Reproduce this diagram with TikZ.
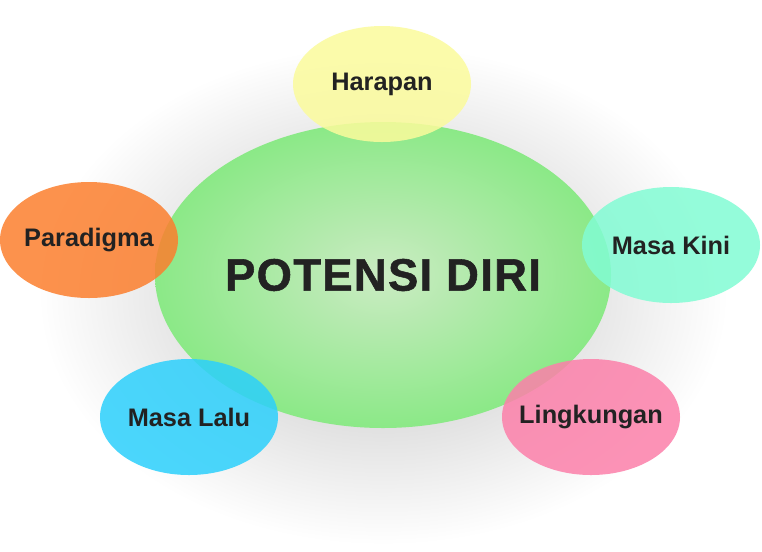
\documentclass[tikz,border=0pt]{standalone}
\usepackage{fontspec}
\setmainfont{Liberation Sans}
\usepackage{xcolor}
\usepackage{tikz}
\usetikzlibrary{shapes.geometric}
\definecolor{coregreen}{HTML}{8BE987}
\definecolor{corelight}{HTML}{CBEBC3}
\definecolor{hopeyellow}{HTML}{FBFB9C}
\definecolor{paraorange}{HTML}{FC7F2E}
\definecolor{nowmint}{HTML}{82FCD4}
\definecolor{pastblue}{HTML}{2CD0FC}
\definecolor{envpink}{HTML}{FC80AA}
\definecolor{textdark}{HTML}{222222}
\pgfdeclareradialshading{softshadow}{\pgfpoint{0bp}{0bp}}{color(0bp)=(black!15); color(13bp)=(black!12); color(25bp)=(white); color(50bp)=(white)}
\newcommand{\bubbletext}[1]{\makebox[0pt]{#1}}
\tikzset{
  bubble/.style={ellipse,inner sep=0pt,minimum width=133.5pt,minimum height=87pt,
    fill opacity=0.85,text opacity=1,text=textdark,font=\fontsize{19}{22}\selectfont\bfseries},
  core/.style={ellipse,inner sep=0pt,minimum width=342pt,minimum height=229.5pt,
    shading=radial,inner color=corelight,outer color=coregreen,
    text=textdark,font=\fontsize{34}{40}\selectfont\bfseries\addfontfeatures{LetterSpace=3,FakeBold=1.2}}
}

\begin{document}
\begin{tikzpicture}[x=0.75pt,y=-0.75pt]
  \useasboundingbox[fill=white] (0,0) rectangle (762,551);
  \shade[shading=softshadow] (383,295) ellipse [x radius=345, y radius=250];
  \node[core] (potensi) at (383,275) {\bubbletext{POTENSI DIRI}};
  \node[bubble,fill=hopeyellow] (harapan) at (382,84) {\bubbletext{Harapan}};
  \node[bubble,fill=paraorange] (paradigma) at (89,240) {\bubbletext{Paradigma}};
  \node[bubble,fill=nowmint] (kini) at (671,245) {\bubbletext{Masa Kini}};
  \node[bubble,fill=pastblue] (lalu) at (189,417) {\bubbletext{Masa Lalu}};
  \node[bubble,fill=envpink] (lingkungan) at (591,417) {\bubbletext{Lingkungan}};
\end{tikzpicture}
\end{document}
